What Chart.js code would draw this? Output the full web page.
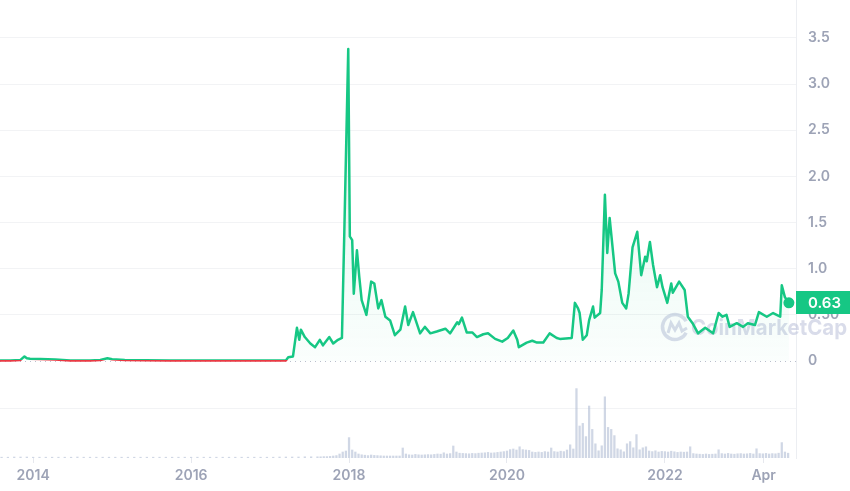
<!DOCTYPE html>
<html lang="en">
<head>
<meta charset="UTF-8">
<title>XRP price chart</title>
<script src="https://cdn.jsdelivr.net/npm/chart.js"></script>
<style>
    html, body { margin: 0; padding: 0; background: #fff; }
    #wrap { width: 850px; height: 491px; position: relative; }
</style>
</head>
<body>
<div id="wrap"><canvas id="priceChart"></canvas></div>
<script>
// price series (decimal year, USD)
const priceYears = [
    2013.58, 2013.71, 2013.84, 2013.89, 2013.92, 2013.96, 2014.09, 2014.28, 2014.47, 2014.72,
    2014.85, 2014.94, 2015.00, 2015.16, 2015.42, 2015.73, 2016.11, 2016.49, 2016.87, 2017.06,
    2017.15, 2017.20, 2017.23, 2017.29, 2017.34, 2017.37, 2017.39, 2017.44, 2017.51, 2017.57,
    2017.63, 2017.67, 2017.75, 2017.80, 2017.86, 2017.91, 2017.94, 2017.99, 2018.01, 2018.04,
    2018.06, 2018.10, 2018.13, 2018.16, 2018.22, 2018.28, 2018.32, 2018.37, 2018.41, 2018.46,
    2018.52, 2018.58, 2018.65, 2018.71, 2018.75, 2018.81, 2018.90, 2018.96, 2019.03, 2019.11,
    2019.22, 2019.28, 2019.37, 2019.39, 2019.43, 2019.49, 2019.56, 2019.62, 2019.70, 2019.76,
    2019.85, 2019.94, 2020.01, 2020.08, 2020.13, 2020.15, 2020.25, 2020.32, 2020.38, 2020.46,
    2020.54, 2020.63, 2020.67, 2020.82, 2020.86, 2020.90, 2020.92, 2020.96, 2021.01, 2021.04,
    2021.09, 2021.11, 2021.18, 2021.20, 2021.24, 2021.27, 2021.30, 2021.37, 2021.41, 2021.46,
    2021.51, 2021.54, 2021.59, 2021.65, 2021.70, 2021.75, 2021.77, 2021.81, 2021.85, 2021.90,
    2021.94, 2021.97, 2022.03, 2022.08, 2022.10, 2022.18, 2022.25, 2022.29, 2022.35, 2022.42,
    2022.51, 2022.61, 2022.68, 2022.73, 2022.78, 2022.82, 2022.91, 2022.99, 2023.05, 2023.14,
    2023.19, 2023.29, 2023.37, 2023.46, 2023.48, 2023.52, 2023.57
];
const prices = [
    0.006, 0.005, 0.012, 0.050, 0.030, 0.025, 0.022, 0.018, 0.006, 0.006,
    0.012, 0.030, 0.020, 0.012, 0.008, 0.007, 0.006, 0.007, 0.007, 0.006,
    0.006, 0.007, 0.040, 0.050, 0.36, 0.23, 0.34, 0.26, 0.19, 0.15,
    0.23, 0.17, 0.26, 0.19, 0.23, 0.25, 1.39, 3.38, 1.35, 1.31,
    0.73, 1.20, 0.91, 0.66, 0.50, 0.86, 0.84, 0.57, 0.66, 0.48,
    0.44, 0.28, 0.34, 0.59, 0.39, 0.53, 0.30, 0.37, 0.30, 0.32,
    0.35, 0.30, 0.42, 0.40, 0.47, 0.31, 0.31, 0.26, 0.29, 0.30,
    0.24, 0.21, 0.25, 0.33, 0.23, 0.15, 0.20, 0.22, 0.20, 0.20,
    0.30, 0.25, 0.24, 0.25, 0.63, 0.57, 0.52, 0.23, 0.28, 0.44,
    0.59, 0.47, 0.52, 0.77, 1.80, 1.17, 1.55, 0.95, 0.86, 0.63,
    0.57, 0.73, 1.23, 1.40, 0.93, 1.13, 1.08, 1.29, 1.04, 0.80,
    0.93, 0.80, 0.63, 0.84, 0.74, 0.86, 0.77, 0.48, 0.41, 0.30,
    0.36, 0.30, 0.52, 0.48, 0.50, 0.37, 0.41, 0.37, 0.41, 0.39,
    0.53, 0.48, 0.52, 0.48, 0.82, 0.69, 0.63
];

// volume (billions USD), early part every 0.08 yr, later part every 0.04 yr
const volEarlyStart = 2013.6, volEarlyStep = 0.08;
const volEarly = [
    0.4, 0.4, 0.5, 0.5, 0.5, 0.4, 0.4, 0.4, 0.4, 0.4,
    0.4, 0.4, 0.5, 0.4, 0.4, 0.4, 0.4, 0.4, 0.4, 0.4,
    0.4, 0.4, 0.4, 0.4, 0.4, 0.4, 0.4, 0.4, 0.4, 0.4,
    0.4, 0.4, 0.4, 0.4, 0.4, 0.4, 0.4, 0.4, 0.4, 0.4,
    0.4, 0.4, 0.4, 0.4, 0.5, 0.5, 0.5, 0.5, 0.6, 0.6
];
const volLateStart = 2017.6, volLateStep = 0.04;
const volLate = [
    0.6, 0.6, 0.7, 0.7, 0.8, 1.0, 1.2, 2.0, 3.0, 3.5,
    10.2, 4.0, 3.0, 2.0, 1.6, 1.4, 1.2, 1.5, 1.3, 1.2,
    1.1, 1.0, 1.0, 1.0, 1.0, 1.0, 1.0, 5.0, 2.0, 1.6,
    1.5, 1.8, 1.6, 1.5, 1.6, 1.7, 1.6, 1.8, 2.0, 1.9,
    2.6, 2.0, 2.2, 6.0, 3.0, 2.4, 2.3, 2.2, 2.1, 2.3,
    2.2, 2.4, 2.5, 2.6, 2.8, 2.5, 2.6, 2.8, 3.0, 3.2,
    3.5, 4.2, 4.5, 4.0, 5.6, 4.2, 4.0, 3.8, 3.0, 2.8,
    3.0, 2.8, 3.2, 3.0, 5.0, 3.2, 3.0, 3.4, 3.2, 4.0,
    6.6, 4.5, 34.7, 16.0, 17.3, 10.7, 26.0, 14.3, 7.1, 3.6,
    6.1, 30.6, 15.3, 14.3, 11.2, 4.6, 4.1, 3.1, 7.1, 8.2,
    5.1, 11.7, 4.1, 5.1, 5.6, 3.5, 3.2, 3.6, 3.0, 3.3,
    3.2, 3.0, 3.4, 3.1, 2.8, 3.0, 2.9, 3.0, 5.6, 2.2,
    2.0, 1.9, 1.8, 2.0, 1.8, 1.9, 2.0, 4.1, 2.2, 2.0,
    2.3, 2.0, 1.9, 2.1, 2.2, 2.0, 2.1, 2.3, 2.0, 4.6,
    2.2, 2.1, 2.3, 2.0, 2.2, 2.1, 2.4, 7.7, 3.0, 2.4
];

// axis ticks
const xTickValues = [2014, 2016, 2018, 2020, 2022, 2023.25];
const xTickLabels = ['2014', '2016', '2018', '2020', '2022', 'Apr'];
const yTickValues = [0, 0.5, 1, 1.5, 2, 2.5, 3, 3.5];
const yTickLabels = ['0', '0.50', '1.0', '1.5', '2.0', '2.5', '3.0', '3.5'];
const volGridValues = [25];

const GREEN = '#16c784';
const RED = '#ea3943';
const AXIS_TEXT = '#9da3b6';
const GRID = '#f2f3f5';

const pricePoints = priceYears.map((x, i) => ({ x: x, y: prices[i] }));
const volPoints = volEarly.map((v, i) => ({ x: volEarlyStart + i * volEarlyStep, y: v }))
    .concat(volLate.map((v, i) => ({ x: volLateStart + i * volLateStep, y: v })));
const startPrice = prices[0];
const lastPrice = prices[prices.length - 1];

// line is green above the opening price and red below it
const lineColor = (ctx) => {
    const chart = ctx.chart;
    const area = chart.chartArea;
    if (!area) return GREEN;
    const py = chart.scales.y.getPixelForValue(startPrice);
    let s = (py - area.top) / (area.bottom - area.top);
    s = Math.min(1, Math.max(0, s));
    const g = chart.ctx.createLinearGradient(0, area.top, 0, area.bottom);
    g.addColorStop(0, GREEN);
    g.addColorStop(s, GREEN);
    g.addColorStop(s, RED);
    g.addColorStop(1, RED);
    return g;
};

const fillColor = (ctx) => {
    const chart = ctx.chart;
    const area = chart.chartArea;
    if (!area) return 'rgba(22,199,132,0.08)';
    const y0 = chart.scales.y.getPixelForValue(0);
    const g = chart.ctx.createLinearGradient(0, area.top + 30, 0, y0);
    g.addColorStop(0, 'rgba(22,199,132,0.16)');
    g.addColorStop(1, 'rgba(22,199,132,0.02)');
    return g;
};

// dotted zero line + watermark under the series, price tag on top
const decorations = {
    id: 'decorations',
    beforeDatasetsDraw(chart) {
        const { ctx, chartArea, scales } = chart;
        const y0 = Math.round(scales.y.getPixelForValue(0)) + 0.5;
        ctx.save();
        ctx.strokeStyle = '#b9bfcc';
        ctx.lineWidth = 1;
        ctx.setLineDash([1, 4]);
        ctx.beginPath();
        ctx.moveTo(chartArea.left, y0);
        ctx.lineTo(chartArea.right, y0);
        ctx.stroke();
        ctx.setLineDash([]);

        // watermark
        const cx = 675, cy = 327;
        ctx.globalAlpha = 0.55;
        ctx.strokeStyle = '#b9c0d8';
        ctx.lineWidth = 3.5;
        ctx.beginPath();
        ctx.arc(cx, cy, 12.5, 0.15 * Math.PI, 1.85 * Math.PI, false);
        ctx.stroke();
        ctx.lineWidth = 3;
        ctx.beginPath();
        ctx.moveTo(cx - 7, cy + 6);
        ctx.lineTo(cx - 4, cy - 4);
        ctx.lineTo(cx, cy + 3);
        ctx.lineTo(cx + 4, cy - 4);
        ctx.lineTo(cx + 7, cy + 4);
        ctx.lineTo(cx + 12, cy + 1);
        ctx.stroke();
        ctx.fillStyle = '#b9c0d8';
        ctx.font = '700 22px Inter, "Noto Sans", sans-serif';
        ctx.textBaseline = 'middle';
        ctx.textAlign = 'left';
        const w = ctx.measureText('CoinMarketCap').width;
        ctx.translate(691, cy + 1);
        ctx.scale(156 / w, 1);
        ctx.fillText('CoinMarketCap', 0, 0);
        ctx.restore();
    },
    afterDraw(chart) {
        const { ctx, chartArea, scales } = chart;
        const py = scales.y.getPixelForValue(lastPrice);
        ctx.save();
        ctx.fillStyle = GREEN;
        ctx.fillRect(chartArea.right, Math.round(py - 11.5), 54, 23);
        ctx.fillStyle = '#ffffff';
        ctx.font = '600 15px Inter, "Noto Sans", sans-serif';
        ctx.textBaseline = 'middle';
        ctx.textAlign = 'left';
        ctx.fillText(lastPrice.toFixed(2), chartArea.right + 12, py + 0.5);
        ctx.restore();
    }
};

Chart.defaults.font.family = 'Inter, "Noto Sans", sans-serif';

new Chart(document.getElementById('priceChart'), {
    type: 'line',
    data: {
        datasets: [{
            type: 'line',
            label: 'Price',
            data: pricePoints,
            yAxisID: 'y',
            borderColor: lineColor,
            backgroundColor: fillColor,
            borderWidth: 2.5,
            borderJoinStyle: 'round',
            fill: { target: { value: 0 } },
            tension: 0,
            clip: 8,
            pointRadius: (ctx) => ctx.dataIndex === pricePoints.length - 1 ? 5.5 : 0,
            pointBackgroundColor: GREEN,
            pointBorderWidth: 0,
            order: 1
        }, {
            type: 'bar',
            label: 'Volume',
            data: volPoints,
            yAxisID: 'y2',
            backgroundColor: 'rgba(176,188,212,0.6)',
            barThickness: 1.6,
            order: 2
        }]
    },
    options: {
        responsive: true,
        maintainAspectRatio: false,
        animation: false,
        layout: { padding: 0, autoPadding: false },
        plugins: {
            legend: { display: false },
            tooltip: { enabled: false }
        },
        scales: {
            x: {
                type: 'linear',
                min: 2013.58,
                max: 2023.66,
                offset: false,
                afterBuildTicks: (scale) => { scale.ticks = xTickValues.map(v => ({ value: v })); },
                afterFit: (scale) => {
                    scale.height = 33;
                    scale.paddingLeft = 0;
                    scale.paddingRight = 0;
                },
                ticks: {
                    autoSkip: false,
                    maxRotation: 0,
                    padding: 4,
                    color: AXIS_TEXT,
                    font: { size: 14, weight: '600' },
                    callback: (value, index) => xTickLabels[index]
                },
                grid: {
                    drawOnChartArea: false,
                    drawTicks: true,
                    tickLength: 5,
                    color: '#e6e8ee',
                    offset: false
                },
                border: { display: false }
            },
            y: {
                type: 'linear',
                position: 'right',
                min: -1.05,
                max: 3.91,
                afterBuildTicks: (scale) => { scale.ticks = yTickValues.map(v => ({ value: v })); },
                afterFit: (scale) => {
                    scale.width = 54;
                    scale.paddingTop = 0;
                    scale.paddingBottom = 0;
                },
                ticks: {
                    padding: 12,
                    color: AXIS_TEXT,
                    font: { size: 14, weight: '600' },
                    callback: (value, index) => yTickLabels[index]
                },
                grid: {
                    drawTicks: false,
                    color: (ctx) => ctx.tick && ctx.tick.value === 0 ? 'rgba(0,0,0,0)' : GRID
                },
                border: { display: true, color: '#eceef2' }
            },
            y2: {
                type: 'linear',
                position: 'left',
                min: 0,
                max: 229,
                afterBuildTicks: (scale) => { scale.ticks = volGridValues.map(v => ({ value: v })); },
                afterFit: (scale) => {
                    scale.width = 0;
                    scale.paddingTop = 0;
                    scale.paddingBottom = 0;
                },
                ticks: { display: false },
                grid: { drawTicks: false, color: GRID },
                border: { display: false }
            }
        }
    },
    plugins: [decorations]
});
</script>
</body>
</html>
